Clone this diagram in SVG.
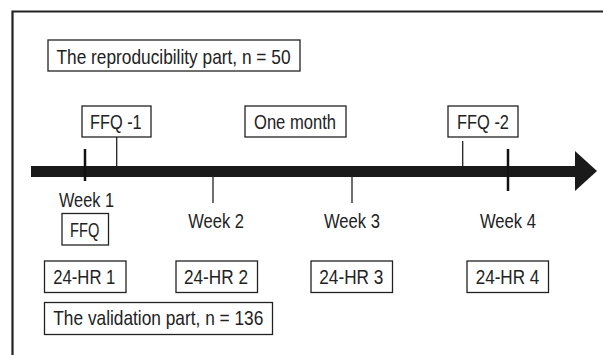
<svg xmlns="http://www.w3.org/2000/svg" width="603" height="355" viewBox="0 0 603 355">
<style>
.box{fill:#fff;stroke:#222;stroke-width:1.3}
.t{font-family:"Liberation Sans",Arial,sans-serif;font-size:21px;fill:#222}
.c{text-anchor:middle}
.ln{stroke:#222;stroke-width:1.3}
.tk{stroke:#111;stroke-width:2.5}
</style>
<rect width="603" height="355" fill="#fff"/>
<path d="M12.5,355 V11.5 H603" fill="none" stroke="#222" stroke-width="2.2"/>
<g id="connectors">
<rect x="31" y="166" width="546" height="11" fill="#1a1a1a"/>
<polygon points="575,151 597,171 575,191" fill="#1a1a1a"/>
<line class="ln" x1="116.7" y1="137" x2="116.7" y2="166"/>
<line class="ln" x1="462.7" y1="141" x2="462.7" y2="166"/>
<line class="tk" x1="85" y1="149" x2="85" y2="181"/>
<line class="tk" x1="508" y1="149" x2="508" y2="191"/>
<line class="ln" x1="213" y1="176" x2="213" y2="203"/>
<line class="ln" x1="352" y1="176" x2="352" y2="203"/>
</g>
<g id="reproducibility"><rect class="box" x="48" y="40" width="252" height="31"/><text class="t" x="56.5" y="63.5" textLength="234" lengthAdjust="spacingAndGlyphs">The reproducibility part, n = 50</text></g>
<g id="ffq1"><rect class="box" x="82" y="106" width="69" height="31"/><text class="t" x="90" y="129" textLength="51.7" lengthAdjust="spacingAndGlyphs">FFQ -1</text></g>
<g id="onemonth"><rect class="box" x="245" y="106" width="101" height="31"/><text class="t" x="254" y="129" textLength="82" lengthAdjust="spacingAndGlyphs">One month</text></g>
<g id="ffq2"><rect class="box" x="448" y="106" width="70" height="31"/><text class="t" x="457" y="129" textLength="52" lengthAdjust="spacingAndGlyphs">FFQ -2</text></g>
<g id="week1"><text class="t" x="59" y="206.7" textLength="55" lengthAdjust="spacingAndGlyphs">Week 1</text></g>
<g id="week2"><text class="t" x="188.3" y="227.7" textLength="55.7" lengthAdjust="spacingAndGlyphs">Week 2</text></g>
<g id="week3"><text class="t" x="324" y="227.7" textLength="56" lengthAdjust="spacingAndGlyphs">Week 3</text></g>
<g id="week4"><text class="t" x="480" y="227.7" textLength="56" lengthAdjust="spacingAndGlyphs">Week 4</text></g>
<g id="ffq"><rect class="box" x="62" y="213.5" width="46.5" height="31.5"/><text class="t" x="70" y="237.3" textLength="29.3" lengthAdjust="spacingAndGlyphs">FFQ</text></g>
<g id="hr1"><rect class="box" x="44.5" y="261" width="81.5" height="31.5"/><text class="t" x="53.3" y="284" textLength="62" lengthAdjust="spacingAndGlyphs">24-HR 1</text></g>
<g id="hr2"><rect class="box" x="176" y="261" width="81.5" height="31.5"/><text class="t" x="184" y="284" textLength="64" lengthAdjust="spacingAndGlyphs">24-HR 2</text></g>
<g id="hr3"><rect class="box" x="311" y="261" width="81.5" height="31.5"/><text class="t" x="319.3" y="284" textLength="64" lengthAdjust="spacingAndGlyphs">24-HR 3</text></g>
<g id="hr4"><rect class="box" x="467" y="261" width="81.5" height="31.5"/><text class="t" x="475.7" y="284" textLength="63.6" lengthAdjust="spacingAndGlyphs">24-HR 4</text></g>
<g id="validation"><rect class="box" x="44.5" y="302.5" width="228" height="32"/><text class="t" x="53.3" y="325" textLength="210" lengthAdjust="spacingAndGlyphs">The validation part, n = 136</text></g>
</svg>
